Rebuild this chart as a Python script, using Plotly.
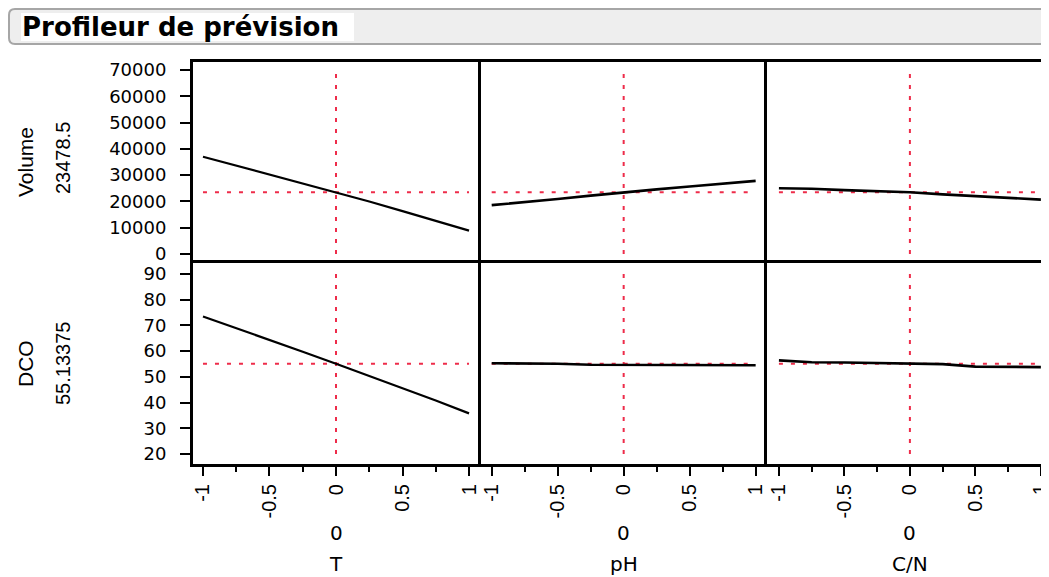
import plotly.graph_objects as go
from plotly.subplots import make_subplots

# ---------------- data ----------------
factor_names = ["T", "pH", "C/N"]
factor_current = [0, 0, 0]
factor_levels = [-1, -0.75, -0.5, -0.25, 0, 0.25, 0.5, 0.75, 1]

response_names = ["Volume", "DCO"]
response_predicted = [23478.5, 55.13375]
response_predicted_text = ["23478.5", "55.13375"]

volume_T = [37000, 33600, 30300, 26900, 23478.5, 20000, 16300, 12600, 8900]
volume_pH = [18600, 19700, 20900, 22200, 23478.5, 24600, 25700, 26800, 27800]
volume_CN = [25000, 24800, 24300, 23900, 23478.5, 22700, 22000, 21400, 20700]

dco_T = [73.5, 69.0, 64.5, 59.8, 55.13, 50.4, 45.6, 40.8, 35.8]
dco_pH = [55.3, 55.3, 55.1, 54.7, 54.6, 54.55, 54.5, 54.5, 54.5]
dco_CN = [56.4, 55.7, 55.6, 55.4, 55.0, 54.95, 54.0, 53.8, 53.8]

volume_ticks = [0, 10000, 20000, 30000, 40000, 50000, 60000, 70000]
volume_tick_text = ["0", "10000", "20000", "30000", "40000", "50000", "60000", "70000"]
dco_ticks = [20, 30, 40, 50, 60, 70, 80, 90]
dco_tick_text = ["20", "30", "40", "50", "60", "70", "80", "90"]

x_ticks = [-1, -0.5, 0, 0.5, 1]
x_tick_text = ["-1", "-0.5", "0", "0.5", "1"]
x_minor_ticks = [-0.75, -0.25, 0.25, 0.75]

title_text = "Profileur de prévision"

profiles = [[volume_T, volume_pH, volume_CN], [dco_T, dco_pH, dco_CN]]
y_ranges = [[-3400, 73000], [16.1, 94.3]]
y_tick_vals = [volume_ticks, dco_ticks]
y_tick_txt = [volume_tick_text, dco_tick_text]
y_ref_span = [[0, 70000], [20, 90]]
x_ranges = [[-1.075, 1.09], [-1.081, 1.086], [-1.091, 1.062]]

# ---------------- layout geometry ----------------
# page pixels; the page body has an 8px default margin, so the figure is
# placed 8px right/down of the page origin.
OFF = 8
PAGE_W, PAGE_H = 1049, 577
FIG_W, FIG_H = PAGE_W - OFF, PAGE_H - OFF
L, R, T, B = 193, 1049, 62, 464          # plot area in page pixels
W, H = R - L, B - T


def px_x(px):
    return (px - L) / W


def px_y(py):
    return (B - py) / H


RED = "#ee2c4a"
SANS = "DejaVu Sans"
ARIAL = "Liberation Sans"

fig = make_subplots(rows=2, cols=3, horizontal_spacing=0, vertical_spacing=0,
                    column_widths=[288, 286, 282])

for r in range(2):
    for c in range(3):
        row, col = r + 1, c + 1
        # reference lines (current setting / predicted value)
        fig.add_trace(go.Scatter(
            x=[factor_levels[0], factor_levels[-1]],
            y=[response_predicted[r], response_predicted[r]],
            mode="lines", line=dict(color=RED, width=2, dash="4px,8px"),
            hoverinfo="skip", showlegend=False), row=row, col=col)
        fig.add_trace(go.Scatter(
            x=[factor_current[c], factor_current[c]],
            y=y_ref_span[r],
            mode="lines", line=dict(color=RED, width=2, dash="4px,7px"),
            hoverinfo="skip", showlegend=False), row=row, col=col)
        # profile trace
        fig.add_trace(go.Scatter(
            x=factor_levels, y=profiles[r][c], mode="lines",
            line=dict(color="black", width=2.2 if c == 0 else 2.6),
            name=f"{response_names[r]} vs {factor_names[c]}",
            showlegend=False), row=row, col=col)

        xa = dict(range=x_ranges[c], showgrid=False, zeroline=False, automargin=False,
                  showline=True, linecolor="black", linewidth=3)
        if r == 1:
            xa.update(mirror=True, side="bottom",
                      tickmode="array", tickvals=x_ticks, ticktext=x_tick_text,
                      ticks="outside", ticklen=9, tickwidth=2, tickcolor="black",
                      tickangle=-90, ticklabeloverflow="allow",
                      tickfont=dict(family=ARIAL, size=20, color="black"),
                      minor=dict(tickmode="array", tickvals=x_minor_ticks,
                                 ticks="outside", ticklen=5, tickwidth=2,
                                 tickcolor="black"))
        else:
            xa.update(mirror=False, side="top", showticklabels=False, ticks="")
        fig.update_xaxes(row=row, col=col, **xa)

        ya = dict(range=y_ranges[r], showgrid=False, zeroline=False, automargin=False,
                  showline=True, linecolor="black", linewidth=3, mirror=False)
        if c == 0:
            ya.update(tickmode="array", tickvals=y_tick_vals[r],
                      ticktext=y_tick_txt[r], ticks="outside", ticklen=10,
                      tickwidth=2, tickcolor="black", ticklabelstandoff=10,
                      tickfont=dict(family=SANS, size=18, color="black"))
        else:
            ya.update(showticklabels=False, ticks="")
        fig.update_yaxes(row=row, col=col, **ya)

annotations = []
# factor current values and names under the bottom row
for c in range(3):
    xref = "x" + str(4 + c)
    annotations.append(dict(text=str(factor_current[c]), x=factor_current[c], xref=xref,
                            y=px_y(533), yref="paper", showarrow=False,
                            xanchor="center", yanchor="middle",
                            font=dict(family=SANS, size=20, color="black")))
    annotations.append(dict(text=factor_names[c], x=factor_current[c], xref=xref,
                            y=px_y(564), yref="paper", showarrow=False,
                            xanchor="center", yanchor="middle",
                            font=dict(family=SANS, size=20, color="black")))
# response names and predicted values on the left
row_centers = [(162, 158), (364, 364)]
for r in range(2):
    annotations.append(dict(text=response_names[r], x=px_x(25), xref="paper",
                            y=px_y(row_centers[r][0]), yref="paper", showarrow=False,
                            textangle=-90, xanchor="center", yanchor="middle",
                            font=dict(family=ARIAL, size=21, color="black")))
    annotations.append(dict(text=response_predicted_text[r], x=px_x(63), xref="paper",
                            y=px_y(row_centers[r][1]), yref="paper", showarrow=False,
                            textangle=-90, xanchor="center", yanchor="middle",
                            font=dict(family=ARIAL, size=20, color="black")))

# title bar (rounded outline box)
bx0, bx1, by0, by1, rad = 9, 1080, 9, 44, 6


def P(px, py):
    return f"{px_x(px)},{px_y(py)}"


bar_path = (f"M {P(bx0 + rad, by0)} L {P(bx1, by0)} L {P(bx1, by1)} L {P(bx0 + rad, by1)} "
            f"Q {P(bx0, by1)} {P(bx0, by1 - rad)} L {P(bx0, by0 + rad)} "
            f"Q {P(bx0, by0)} {P(bx0 + rad, by0)} Z")
shapes = [
    dict(type="path", path=bar_path, xref="paper", yref="paper",
         fillcolor="#eeeeee", line=dict(color="#a6a6a6", width=2), layer="below"),
    dict(type="rect", xref="paper", yref="paper", x0=px_x(21), x1=px_x(354),
         y0=px_y(41), y1=px_y(13), fillcolor="white", line=dict(width=0), layer="below"),
]

fig.update_layout(
    width=FIG_W, height=FIG_H,
    margin=dict(l=L - OFF, r=PAGE_W - R, t=T - OFF, b=PAGE_H - B, pad=0,
                autoexpand=False),
    paper_bgcolor="white", plot_bgcolor="white",
    title=dict(text=title_text, x=(22 - OFF) / FIG_W, xanchor="left", xref="container",
               y=1 - (27 - OFF) / FIG_H, yanchor="middle", yref="container",
               font=dict(family=SANS, size=26, color="black", weight="bold")),
    annotations=annotations, shapes=shapes, showlegend=False,
)

fig.write_html("out.html")
